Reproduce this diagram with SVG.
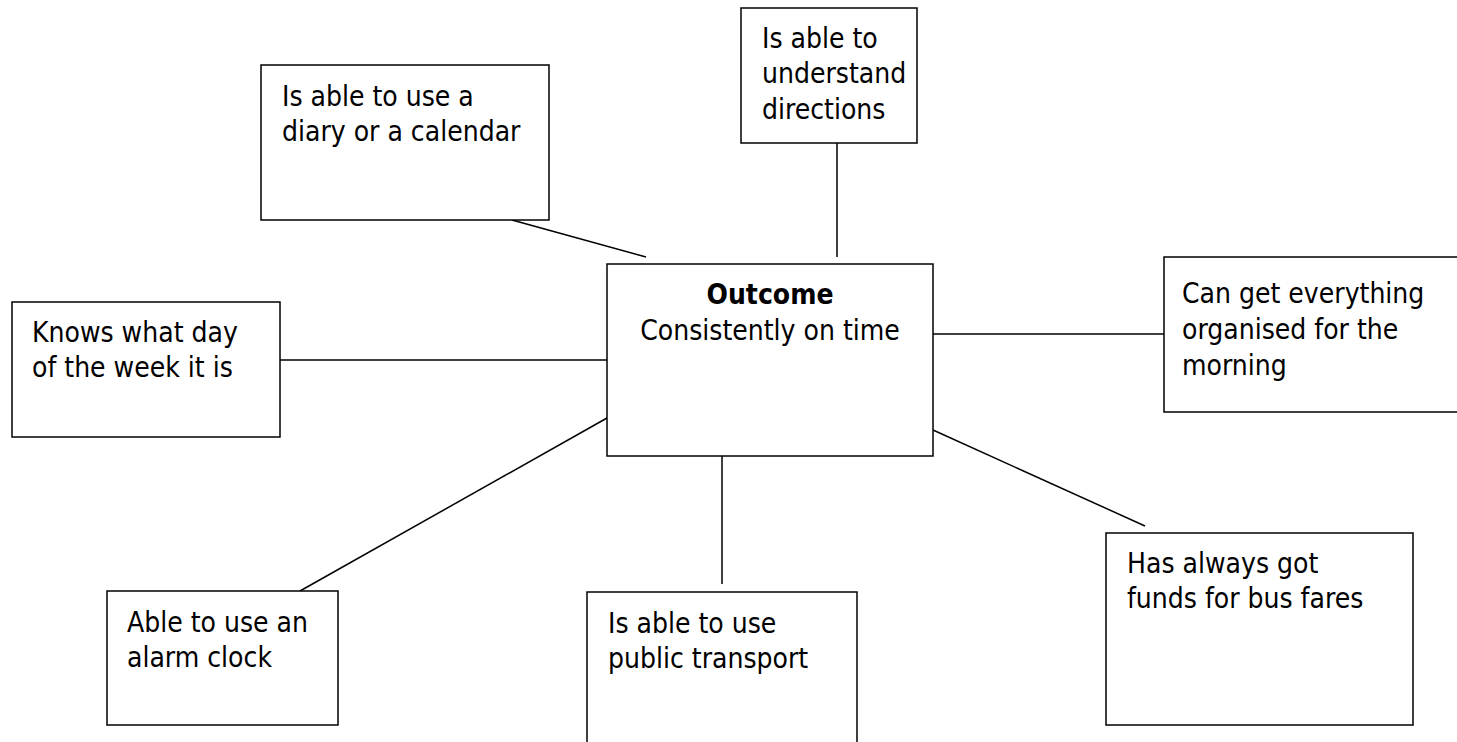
<svg xmlns="http://www.w3.org/2000/svg" width="1457" height="742" viewBox="0 0 1457 742">
<style>
rect{fill:#fff;stroke:#000;stroke-width:1.5}
line{stroke:#000;stroke-width:1.5}
text{font-family:"DejaVu Sans Condensed","DejaVu Sans",Tahoma,sans-serif;font-size:28px;fill:#000}
.b{font-weight:bold}
</style>
<rect width="1457" height="742" style="stroke:none"/>
<g id="connectors">
<line x1="512" y1="220" x2="646" y2="257"/>
<line x1="837" y1="143" x2="837" y2="257"/>
<line x1="280" y1="360" x2="607" y2="360"/>
<line x1="933" y1="334" x2="1164" y2="334"/>
<line x1="607" y1="418" x2="300" y2="591"/>
<line x1="722" y1="450" x2="722" y2="584"/>
<line x1="933" y1="430" x2="1145" y2="526"/>
</g>
<g id="n-center">
<rect x="607" y="264" width="326" height="192"/>
<text x="770" y="304" text-anchor="middle" class="b">Outcome</text>
<text x="770" y="340" text-anchor="middle">Consistently on time</text>
</g>
<g id="n-diary">
<rect x="261" y="65" width="288" height="155"/>
<text x="282" y="106">Is able to use a</text>
<text x="282" y="141">diary or a calendar</text>
</g>
<g id="n-directions">
<rect x="741" y="8" width="176" height="135"/>
<text x="762" y="48">Is able to</text>
<text x="762" y="83">understand</text>
<text x="762" y="119">directions</text>
</g>
<g id="n-morning">
<rect x="1164" y="257" width="310" height="155"/>
<text x="1182" y="303">Can get everything</text>
<text x="1182" y="339">organised for the</text>
<text x="1182" y="375">morning</text>
</g>
<g id="n-day">
<rect x="12" y="302" width="268" height="135"/>
<text x="32" y="342">Knows what day</text>
<text x="32" y="377">of the week it is</text>
</g>
<g id="n-alarm">
<rect x="107" y="591" width="231" height="134"/>
<text x="127" y="632">Able to use an</text>
<text x="127" y="667">alarm clock</text>
</g>
<g id="n-transport">
<rect x="587" y="592" width="270" height="170"/>
<text x="608" y="633">Is able to use</text>
<text x="608" y="668">public transport</text>
</g>
<g id="n-fares">
<rect x="1106" y="533" width="307" height="192"/>
<text x="1127" y="573">Has always got</text>
<text x="1127" y="608">funds for bus fares</text>
</g>
</svg>
